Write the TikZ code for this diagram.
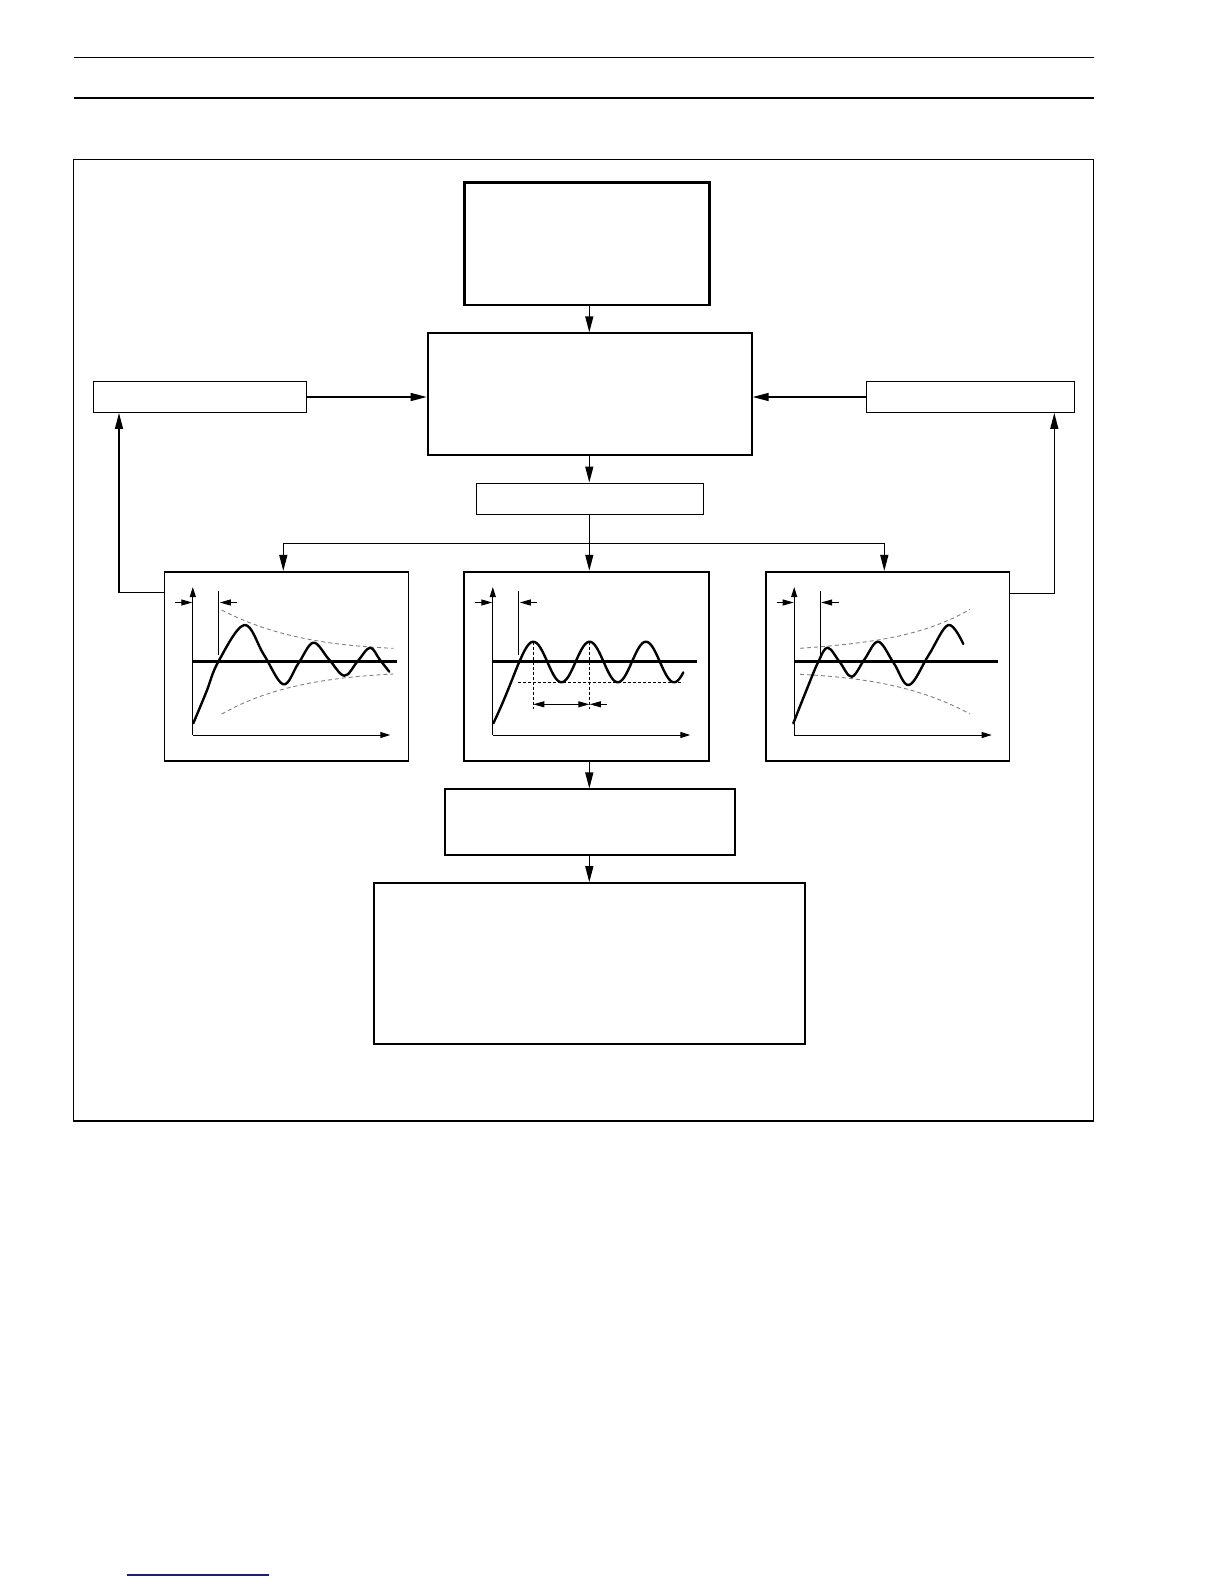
\documentclass[tikz,border=0pt]{standalone}
\usepackage{tikz}
\usetikzlibrary{arrows.meta,positioning}
\tikzset{
  caja/.style={draw,rectangle,inner sep=0pt,line width=1.3pt},
  cajagruesa/.style={caja,line width=2.4pt},
  grafica/.style={caja,line width=1.6pt,minimum height=189.3pt},
  flecha/.style={-{Triangle[length=16pt,width=8pt]},line width=1.3pt},
  ejes/.style={-{Triangle[length=10pt,width=6pt]},line width=1pt},
  cota/.style={-{Triangle[length=11pt,width=6pt]},line width=1pt},
  curva/.style={line width=2.4pt,line join=round,line cap=round},
  consigna/.style={line width=2.6pt},
  envolvente/.style={gray,line width=0.9pt,dash pattern=on 4pt off 3pt},
  guia/.style={line width=0.9pt,dash pattern=on 3pt off 2pt}
}
\definecolor{enlace}{RGB}{30,30,120}
% ejes comunes de cada grafica (x local, y absoluta)
\newcommand{\ejesgrafica}{%
  \draw[ejes] (28.5,735) -- (28.5,587);
  \draw[ejes] (28.5,735) -- (226,735);
  \draw[consigna] (28.5,661.7) -- (232.5,661.7);
  \draw[line width=1pt] (54.5,591) -- (54.5,655);
  \draw[cota] (11,602.5) -- (28,602.5);
  \draw[cota] (73,602.5) -- (55.5,602.5);
}

\begin{document}
\begin{tikzpicture}[x=1pt,y=-1pt]
\useasboundingbox (0,0) rectangle (1224,1584);
% cabecera y marco
\draw[line width=1.3pt] (73.7,57.6) -- (1093.7,57.6);
\draw[line width=1.3pt] (73.7,98) -- (1093.7,98);
\draw[line width=1.3pt] (73.7,159.6) rectangle (1093.7,1121);

% cajas
\node[cajagruesa,minimum width=245pt,minimum height=122.3pt] (inicio) at (586.8,243.8) {};
\node[caja,line width=2pt,minimum width=324pt,minimum height=121.7pt] (proceso) at (589.7,394.2) {};
\node[caja,minimum width=213.4pt,minimum height=30.6pt] (izq) at (200,397) {};
\node[caja,minimum width=208pt,minimum height=30.6pt] (der) at (970.5,397) {};
\node[caja,line width=1.5pt,minimum width=226.6pt,minimum height=31pt] (salida) at (590,498.8) {};
\node[grafica,minimum width=244pt] (gizq) at (286.3,666.4) {};
\node[grafica,line width=2pt,minimum width=244.7pt] (gcen) at (586.7,666.4) {};
\node[grafica,minimum width=243.6pt] (gder) at (887.5,666.4) {};
\node[caja,line width=1.8pt,minimum width=289.7pt,minimum height=65.7pt] (ajuste) at (589.9,822.2) {};
\node[caja,line width=2.2pt,minimum width=431pt,minimum height=161pt] (informe) at (589.8,963.8) {};

% conectores
\coordinate (bif) at (589.3,543.3);
\coordinate (r1) at (283.3,543.3);
\coordinate (r3) at (884.3,543.3);
\coordinate (ql) at (119,592.7);
\coordinate (qr) at (1054.3,593.3);
\draw[flecha] (inicio.south -| bif) -- (bif |- proceso.north);
\draw[flecha] (izq.east) -- (izq.east -| proceso.west);
\draw[flecha] (der.west) -- (der.west -| proceso.east);
\draw[flecha] (proceso.south -| bif) -- (bif |- salida.north);
\draw[line width=1.3pt] (salida.south -| bif) -- (bif);
\draw[line width=1.3pt] (r1) -- (r3);
\draw[flecha] (r1) -- (r1 |- gizq.north);
\draw[flecha] (bif) -- (bif |- gcen.north);
\draw[flecha] (r3) -- (r3 |- gder.north);
\draw[flecha] (gizq.west |- ql) -- (ql) -- (ql |- izq.south);
\draw[flecha] (gder.east |- qr) -- (qr) -- (qr |- der.south);
\draw[flecha] (gcen.south -| bif) -- (bif |- ajuste.north);
\draw[flecha] (ajuste.south -| bif) -- (bif |- informe.north);

% grafica amortiguada
\begin{scope}[shift={(164.3,0)}]
\ejesgrafica
\draw[envolvente] (57.4,610) .. controls (100,632) and (150,645) .. (229,648.3);
\draw[envolvente] (57.4,714) .. controls (100,690) and (150,678) .. (229,674);
\draw[curva] plot[smooth,tension=0.6] coordinates {(29,723.3) (42,692) (54,661.7) (80,625) (99.5,654.6) (119,684.3) (134,663.5) (149,642.7) (164.5,659.2) (180,675.7) (193,661.7) (205.7,647.7) (215.5,659.7) (225,671.7)};
\end{scope}

% grafica oscilante
\begin{scope}[shift={(464.3,0)}]
\ejesgrafica
\draw[guia] (69,641.7) -- (69,709);
\draw[guia] (125,641.7) -- (125,709);
\draw[guia] (54,682.3) -- (219,682.3);
\draw[curva] (29,723.3) .. controls (38,705) and (46,684) .. (54,664) plot[domain=54:219,samples=90] (\x,{662-20.3*cos(6.3943*(\x-69))});
\draw[cota,{Triangle[length=11pt,width=6pt]}-{Triangle[length=11pt,width=6pt]}] (69,704.3) -- (125,704.3);
\draw[cota] (142.4,704.3) -- (125.5,704.3);
\end{scope}

% grafica divergente
\begin{scope}[shift={(765.7,0)}]
\ejesgrafica
\draw[envolvente] (34.3,648.3) .. controls (110,643) and (160,635) .. (204.3,609.3);
\draw[envolvente] (34.3,674.3) .. controls (110,678) and (160,690) .. (204.3,714);
\draw[curva] plot[smooth,tension=0.6] coordinates {(27.6,723.3) (40,692) (52.6,661.7) (62,647.7) (74,662) (86,676.7) (99,659) (112.6,641.7) (128,663) (143.3,685) (163,655) (182.6,625) (197.6,644)};
\end{scope}

% linea azul inferior
\draw[enlace,line width=1.5pt] (126.7,1575) -- (269,1575);
\end{tikzpicture}
\end{document}
